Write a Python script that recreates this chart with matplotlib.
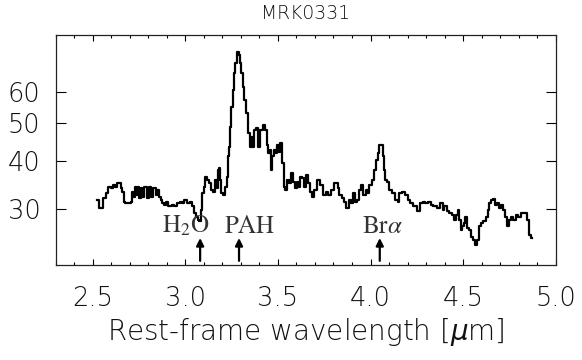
import matplotlib
matplotlib.use("Agg")
import matplotlib.pyplot as plt
from matplotlib.ticker import FixedLocator, MultipleLocator, NullLocator

title = "MRK0331"
xlabel = r"Rest-frame wavelength [$\mu$m]"

wavelength = [
    2.522, 2.545, 2.567, 2.576, 2.585, 2.595, 2.602, 2.612, 2.624, 2.639,
    2.649, 2.656, 2.662, 2.671, 2.682, 2.703, 2.709, 2.716, 2.723, 2.729,
    2.737, 2.746, 2.756, 2.764, 2.773, 2.786, 2.797, 2.810, 2.818, 2.837,
    2.845, 2.854, 2.864, 2.872, 2.881, 2.891, 2.899, 2.917, 2.935, 2.948,
    2.962, 2.980, 2.989, 3.002, 3.016, 3.031, 3.043, 3.052, 3.061, 3.072,
    3.081, 3.090, 3.094, 3.104, 3.112, 3.122, 3.135, 3.144, 3.158, 3.166,
    3.173, 3.180, 3.185, 3.191, 3.198, 3.212, 3.221, 3.228, 3.234, 3.239,
    3.244, 3.252, 3.259, 3.266, 3.273, 3.284, 3.293, 3.300, 3.306, 3.314,
    3.324, 3.333, 3.345, 3.354, 3.363, 3.368, 3.377, 3.389, 3.398, 3.410,
    3.424, 3.434, 3.443, 3.451, 3.461, 3.466, 3.473, 3.482, 3.493, 3.499,
    3.509, 3.518, 3.527, 3.536, 3.545, 3.554, 3.563, 3.576, 3.585, 3.597,
    3.606, 3.615, 3.624, 3.635, 3.647, 3.660, 3.670, 3.680, 3.692, 3.701,
    3.719, 3.737, 3.755, 3.764, 3.777, 3.791, 3.818, 3.827, 3.836, 3.854,
    3.863, 3.875, 3.890, 3.899, 3.908, 3.921, 3.935, 3.944, 3.957, 3.967,
    3.980, 3.989, 3.998, 4.016, 4.025, 4.034, 4.043, 4.052, 4.064, 4.070,
    4.075, 4.084, 4.093, 4.106, 4.124, 4.142, 4.151, 4.160, 4.177, 4.196,
    4.204, 4.223, 4.241, 4.258, 4.277, 4.289, 4.304, 4.321, 4.331, 4.348,
    4.366, 4.385, 4.393, 4.402, 4.420, 4.429, 4.447, 4.456, 4.469, 4.478,
    4.483, 4.492, 4.501, 4.506, 4.514, 4.525, 4.537, 4.550, 4.560, 4.568,
    4.579, 4.588, 4.601, 4.615, 4.628, 4.637, 4.645, 4.656, 4.669, 4.678,
    4.690, 4.701, 4.710, 4.720, 4.732, 4.742, 4.755, 4.766, 4.778, 4.791,
    4.803, 4.817, 4.833, 4.852, 4.865, 4.873,
]

flux = [
    31.7, 30.2, 32.0, 33.0, 34.3, 34.3, 34.0, 34.6, 34.2, 35.0,
    35.0, 34.0, 33.3, 31.4, 31.1, 31.1, 31.4, 33.3, 32.3, 34.3,
    32.6, 34.3, 32.0, 34.0, 32.3, 34.3, 32.0, 34.3, 32.3, 34.0,
    32.6, 33.6, 32.3, 31.7, 31.1, 30.8, 31.4, 30.5, 30.8, 30.5,
    31.1, 31.4, 31.1, 31.7, 31.1, 31.4, 30.5, 29.3, 28.7, 28.2,
    28.0, 29.9, 33.0, 34.3, 36.4, 35.7, 35.0, 33.6, 33.3, 35.7,
    34.0, 37.9, 38.3, 35.7, 33.0, 32.6, 34.3, 36.4, 41.0, 43.4,
    48.9, 55.1, 60.8, 67.1, 71.2, 76.3, 74.8, 71.2, 67.1, 62.0,
    57.3, 53.0, 47.0, 43.4, 46.1, 43.4, 48.0, 48.5, 43.4, 48.0,
    49.4, 48.0, 43.9, 41.8, 42.6, 37.9, 41.0, 42.6, 41.8, 43.9,
    42.2, 44.3, 39.4, 34.3, 33.6, 35.7, 35.0, 37.1, 35.3, 34.0,
    35.3, 34.3, 36.4, 36.0, 34.3, 36.7, 35.0, 33.3, 32.3, 33.6,
    35.7, 34.6, 32.6, 33.3, 32.6, 33.6, 35.0, 34.0, 32.6, 32.0,
    31.4, 30.2, 31.7, 31.1, 33.0, 31.4, 31.7, 33.6, 34.6, 32.6,
    33.6, 33.0, 34.6, 35.7, 37.9, 40.2, 41.8, 43.9, 43.9, 41.0,
    37.9, 35.7, 35.3, 33.6, 33.0, 31.7, 31.4, 33.0, 33.3, 32.6,
    31.7, 31.1, 30.5, 29.6, 31.1, 31.4, 31.1, 31.4, 30.8, 30.5,
    30.2, 31.1, 29.9, 30.5, 29.6, 29.3, 29.0, 28.2, 29.0, 29.9,
    28.2, 26.6, 27.1, 27.6, 28.7, 26.8, 26.6, 25.5, 25.0, 24.3,
    25.0, 27.1, 27.6, 27.9, 28.7, 29.9, 31.1, 31.7, 31.8, 30.8,
    31.1, 30.2, 30.8, 29.9, 28.7, 27.1, 28.2, 28.7, 28.2, 29.0,
    28.7, 29.3, 29.3, 28.2, 25.8, 25.3,
]

feature_names = [r"$\mathrm{H_2O}$", "PAH", r"Br$\alpha$"]
feature_wavelengths = [3.08, 3.29, 4.05]
label_centers = [3.005, 3.345, 4.063]

xticks = [2.5, 3.0, 3.5, 4.0, 4.5, 5.0]
xticklabels = ["2.5", "3.0", "3.5", "4.0", "4.5", "5.0"]
yticks = [30, 40, 50, 60]
yticklabels = ["30", "40", "50", "60"]

fig = plt.figure(figsize=(5.82, 3.60), dpi=100)
ax = fig.add_axes([0.0957, 0.2647, 0.8591, 0.6389])

ax.plot(wavelength, flux, drawstyle="steps-mid", color="black", lw=1.6)

ax.set_yscale("log")
ax.set_xlim(2.3, 5.0)
ax.set_ylim(21.6, 84.3)

ax.xaxis.set_major_locator(FixedLocator(xticks))
ax.set_xticklabels(xticklabels)
ax.xaxis.set_minor_locator(MultipleLocator(0.1))
ax.yaxis.set_major_locator(FixedLocator(yticks))
ax.yaxis.set_minor_locator(NullLocator())
ax.set_yticklabels(yticklabels)

for lab in ax.get_xticklabels() + ax.get_yticklabels():
    lab.set_fontsize(18.5)
    lab.set_fontweight("light")
    lab.set_color("#111111")

ax.tick_params(axis="x", which="major", direction="in", length=4, width=0.8,
               top=True, bottom=True, pad=15)
ax.tick_params(axis="x", which="minor", direction="in", length=2.2, width=0.8,
               top=True, bottom=True)
ax.tick_params(axis="y", which="major", direction="in", length=7.5, width=0.8,
               left=True, right=True, pad=11)
for sp in ax.spines.values():
    sp.set_linewidth(0.9)
    sp.set_color("#222222")

ax.set_xlabel(xlabel, fontsize=20, fontweight="light", color="#111111", labelpad=4)
ax.set_title(title, fontsize=13.5, fontweight="light", color="#111111", pad=11)

for name, wl, cx in zip(feature_names, feature_wavelengths, label_centers):
    ax.annotate("", xy=(wl, 25.3), xytext=(wl, 22.1),
                arrowprops=dict(arrowstyle="-|>", lw=1.6, color="black",
                                mutation_scale=11, shrinkA=0, shrinkB=0))
    ax.text(cx, 26.1, name, ha="center", va="baseline", fontsize=18,
            family="STIXGeneral", math_fontfamily="stix", color="#333333")

fig.savefig("out.png", dpi=100)
